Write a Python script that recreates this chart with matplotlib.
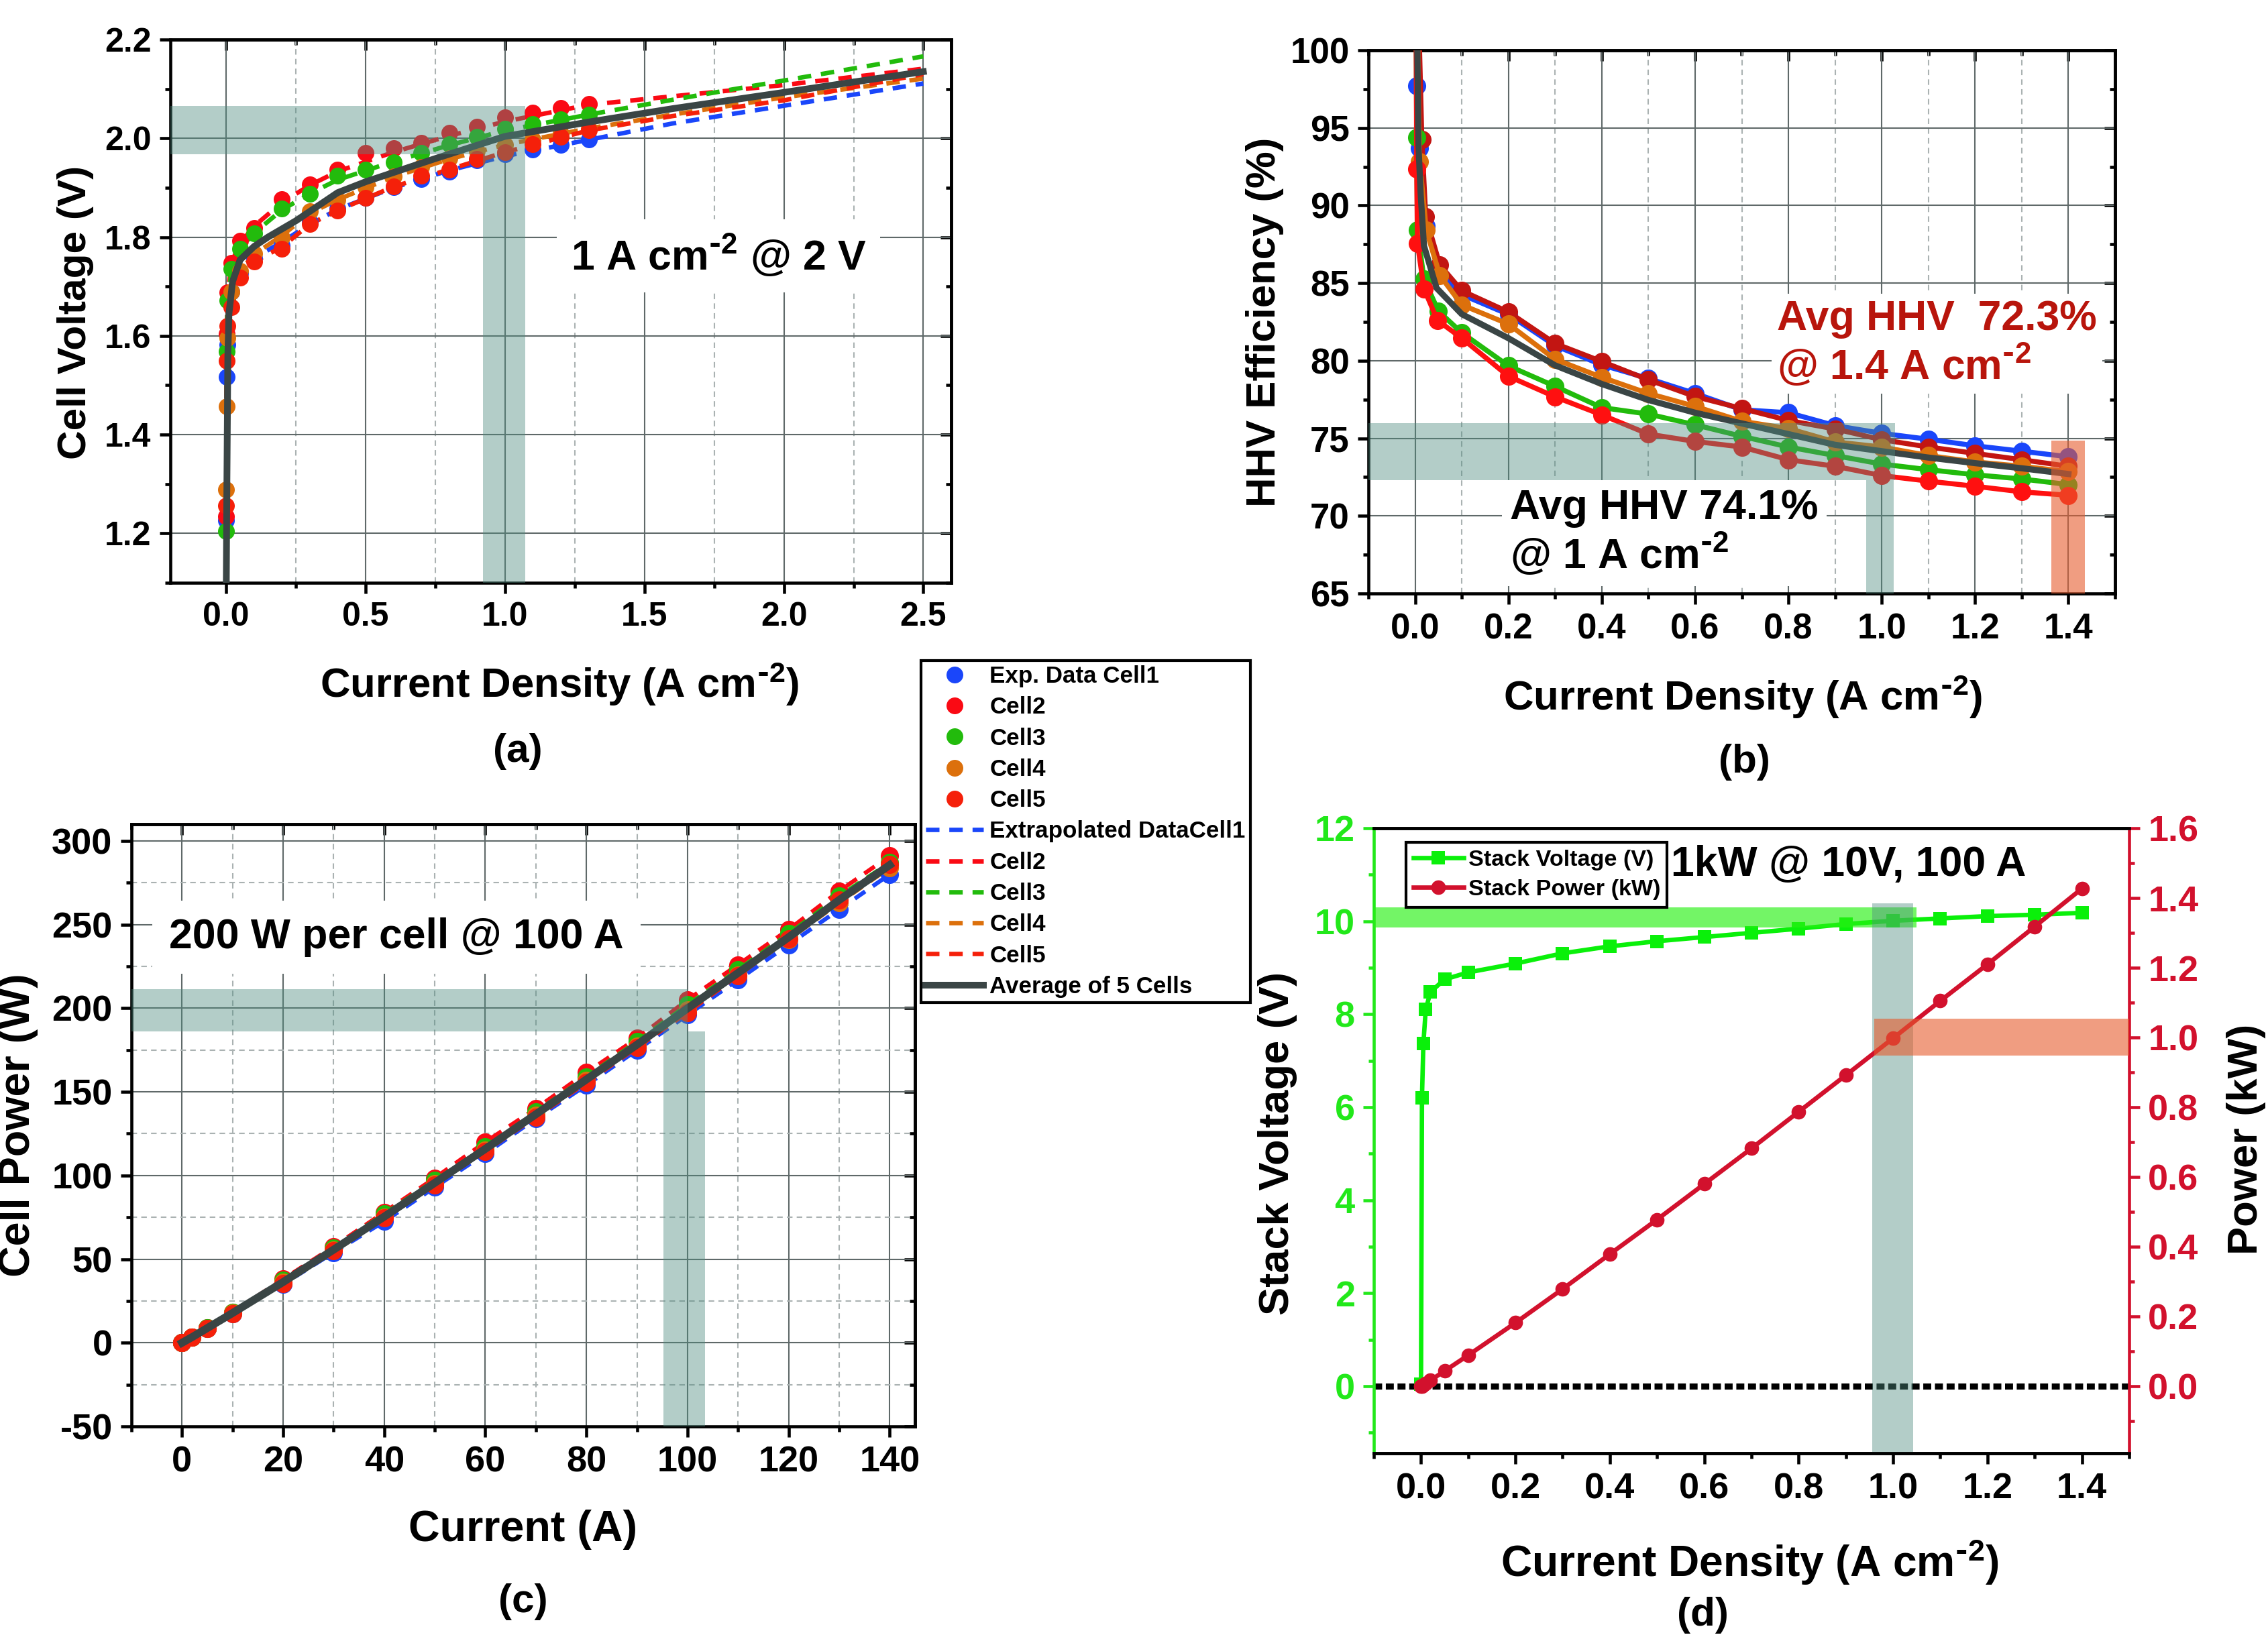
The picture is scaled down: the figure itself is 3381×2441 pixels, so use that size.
import matplotlib.pyplot as plt
from matplotlib.ticker import MultipleLocator, NullFormatter

plt.rcParams['font.family'] = ['Liberation Sans', 'DejaVu Sans']
plt.rcParams['font.weight'] = 'bold'
plt.rcParams['axes.labelweight'] = 'bold'
plt.rcParams['mathtext.default'] = 'regular'
plt.rcParams['axes.linewidth'] = 1.1
plt.rcParams['axes.unicode_minus'] = False

# ---------------- (a) polarisation curves ----------------
a_x = [0.0, 0.002, 0.005, 0.02, 0.05, 0.1, 0.2, 0.3, 0.4, 0.5, 0.6, 0.7, 0.8, 0.9, 1.0, 1.1, 1.2, 1.3]
a_cell1 = [1.226, 1.517, 1.582, 1.690, 1.728, 1.757, 1.783, 1.830, 1.858, 1.880, 1.901, 1.918, 1.933, 1.955, 1.968, 1.977, 1.987, 1.997]
a_cell2 = [1.234, 1.604, 1.688, 1.748, 1.792, 1.818, 1.877, 1.907, 1.936, 1.970, 1.980, 1.991, 2.011, 2.024, 2.043, 2.052, 2.061, 2.070]
a_cell3 = [1.204, 1.569, 1.672, 1.735, 1.776, 1.808, 1.858, 1.888, 1.925, 1.936, 1.951, 1.971, 1.988, 2.003, 2.020, 2.029, 2.039, 2.048]
a_cell4 = [1.289, 1.457, 1.596, 1.690, 1.732, 1.767, 1.799, 1.852, 1.875, 1.901, 1.923, 1.942, 1.959, 1.975, 1.987, 1.998, 2.010, 2.020]
a_cell5 = [1.256, 1.550, 1.620, 1.658, 1.718, 1.751, 1.776, 1.827, 1.854, 1.880, 1.903, 1.925, 1.936, 1.958, 1.972, 1.988, 2.003, 2.016]

ext_x = [0.0, 0.002, 0.005, 0.02, 0.05, 0.1, 0.2, 0.3, 0.4, 0.6, 0.8, 1.0, 1.3, 1.6, 2.0, 2.5]
ext_cell1 = [1.05, 1.50, 1.60, 1.69, 1.728, 1.757, 1.790, 1.826, 1.856, 1.900, 1.935, 1.964, 1.997, 2.030, 2.066, 2.111]
ext_cell2 = [1.05, 1.60, 1.685, 1.750, 1.787, 1.822, 1.870, 1.905, 1.933, 1.972, 2.005, 2.034, 2.068, 2.085, 2.108, 2.141]
ext_cell3 = [1.05, 1.57, 1.67, 1.735, 1.776, 1.808, 1.855, 1.888, 1.916, 1.953, 1.986, 2.016, 2.048, 2.078, 2.117, 2.166]
ext_cell4 = [1.05, 1.46, 1.59, 1.69, 1.732, 1.765, 1.803, 1.848, 1.876, 1.922, 1.958, 1.987, 2.020, 2.048, 2.083, 2.121]
ext_cell5 = [1.05, 1.55, 1.62, 1.66, 1.718, 1.750, 1.780, 1.826, 1.854, 1.902, 1.937, 1.972, 2.016, 2.045, 2.077, 2.130]

avg_x = [0.0, 0.002, 0.006, 0.01, 0.023, 0.05, 0.1, 0.15, 0.25, 0.4, 0.5, 0.75, 1.0, 1.3, 1.6, 2.0, 2.5]
avg_v = [1.05, 1.25, 1.56, 1.645, 1.71, 1.754, 1.781, 1.800, 1.833, 1.890, 1.912, 1.959, 2.004, 2.033, 2.060, 2.093, 2.135]

# ---------------- (b) HHV efficiency ----------------
b_tail_x = [0.1, 0.2, 0.3, 0.4, 0.5, 0.6, 0.7, 0.8, 0.9, 1.0, 1.1, 1.2, 1.3, 1.4]
b_x1 = [0.001, 0.0034, 0.0097, 0.024, 0.05] + b_tail_x
b_y1 = [110, 97.7, 93.7, 88.7, 85.8, 84.26, 82.98, 80.97, 79.73, 78.85, 77.89, 76.84, 76.65, 75.82, 75.32, 74.94, 74.52, 74.17, 73.81]
b_x2 = [0.001, 0.0145, 0.0227, 0.053] + b_tail_x
b_y2 = [110, 94.26, 89.3, 86.17, 84.51, 83.14, 81.11, 79.95, 78.77, 77.69, 76.92, 76.15, 75.6, 74.91, 74.44, 74.03, 73.62, 73.2]
b_x4 = [0.001, 0.0097, 0.024, 0.053] + b_tail_x
b_y4 = [110, 92.83, 88.4, 85.5, 83.6, 82.36, 80.09, 78.93, 77.89, 77.06, 76.1, 75.63, 74.77, 74.44, 73.89, 73.48, 73.2, 72.85]
b_x3 = [0.001, 0.0034, 0.005, 0.019, 0.05] + b_tail_x
b_y3 = [110, 94.38, 88.4, 85.26, 83.19, 81.8, 79.67, 78.35, 76.98, 76.56, 75.87, 75.13, 74.44, 73.89, 73.34, 72.98, 72.65, 72.38, 72.02]
b_x5 = [0.001, 0.0034, 0.005, 0.019, 0.048] + b_tail_x
b_y5 = [110, 92.36, 87.57, 84.63, 82.6, 81.45, 79.0, 77.67, 76.51, 75.27, 74.8, 74.44, 73.62, 73.2, 72.6, 72.24, 71.91, 71.55, 71.33]
b_xavg = [0.001, 0.007, 0.012, 0.019, 0.046] + b_tail_x
b_yavg = [110, 94.0, 90.7, 87.4, 84.68, 83.0, 81.45, 79.7, 78.5, 77.47, 76.65, 75.96, 75.27, 74.58, 74.17, 73.76, 73.4, 73.07, 72.7]

# ---------------- (c) cell power ----------------
c_cur = [0, 2, 5, 10, 20, 30, 40, 50, 60, 70, 80, 90, 100, 110, 120, 130, 140]
c_cell1 = [0, 3.4, 8.6, 17.5, 35.0, 54.0, 72.5, 93.0, 113.0, 134.0, 154.0, 175.0, 196.0, 217.0, 238.0, 259.0, 280.0]
c_cell2 = [0, 3.5, 9.0, 18.2, 38.0, 57.5, 78.0, 98.5, 120.0, 140.0, 161.5, 182.0, 205.0, 226.0, 247.0, 270.0, 291.0]
c_cell3 = [0, 3.5, 8.9, 18.1, 37.2, 56.6, 77.0, 97.0, 117.0, 138.0, 159.0, 180.0, 202.0, 223.0, 244.5, 267.0, 287.0]
c_cell4 = [0, 3.4, 8.7, 17.7, 36.0, 55.5, 75.0, 95.0, 115.0, 136.0, 157.0, 177.5, 199.0, 220.0, 241.0, 263.0, 284.0]
c_cell5 = [0, 3.4, 8.6, 17.5, 35.5, 55.0, 74.5, 94.5, 114.5, 135.0, 155.5, 176.5, 197.5, 219.5, 241.5, 264.5, 286.0]
c_avg = [0, 3.4, 8.8, 17.8, 36.3, 55.7, 75.4, 95.6, 115.9, 136.6, 157.4, 178.2, 199.9, 221.1, 242.4, 264.7, 285.6]

# ---------------- (d) stack ----------------
d_x = [0.0, 0.002, 0.005, 0.01, 0.02, 0.05, 0.1, 0.2, 0.3, 0.4, 0.5, 0.6, 0.7, 0.8, 0.9, 1.0, 1.1, 1.2, 1.3, 1.4]
d_volt = [0.05, 6.21, 7.37, 8.10, 8.48, 8.75, 8.90, 9.09, 9.31, 9.46, 9.57, 9.66, 9.75, 9.84, 9.94, 10.01, 10.06, 10.11, 10.14, 10.18]
d_power = [0.0, 0.0012, 0.0037, 0.0081, 0.017, 0.044, 0.089, 0.182, 0.279, 0.379, 0.478, 0.580, 0.682, 0.787, 0.892, 0.998, 1.105, 1.210, 1.318, 1.427]

cell_colors = ['#1a46fa', '#fa0a14', '#22bb0c', '#dc700c', '#f5200a']
b_colors = ['#1a46fa', '#c21512', '#22bb0c', '#dc700c', '#ff1010']
AVG = '#3a4545'
TEAL = '#508c80'
ORANGE = '#e65c2e'
LIME = '#0af00a'
LIME_TXT = '#22e81a'
CRIMSON = '#d2112d'
DARKRED = '#b8150c'

SUP = r'$^{\text{-}2}$'   # hyphen superscript, as in the original

W, H = 3381, 2441
fig = plt.figure(figsize=(W / 300, H / 300), dpi=300)


def box(l, t, r, b):
    return [l / W, 1 - b / H, (r - l) / W, (b - t) / H]


def ftext(x, y, s, **kw):
    fig.text(x / W, 1 - y / H, s, ha='center', va='center', **kw)


def frame(ax, xmaj, xmin, ymaj, ymin, size, yminor_grid=False):
    ax.xaxis.set_major_locator(MultipleLocator(xmaj))
    ax.xaxis.set_minor_locator(MultipleLocator(xmin))
    ax.yaxis.set_major_locator(MultipleLocator(ymaj))
    ax.yaxis.set_minor_locator(MultipleLocator(ymin))
    ax.tick_params(which='both', direction='out', width=1.1, labelsize=size, pad=3)
    ax.tick_params(which='major', length=3.8)
    ax.tick_params(which='minor', length=2)
    ax.set_axisbelow(True)
    ax.grid(True, which='major', color='#5f6969', lw=0.5)
    ax.grid(True, which='minor', axis='both' if yminor_grid else 'x',
            color='#aab2b2', lw=0.5, ls=(0, (4, 3)))
    # inward ticks on the top and right edges
    sx = ax.secondary_xaxis('top')
    sx.xaxis.set_major_locator(MultipleLocator(xmaj))
    sx.xaxis.set_minor_locator(MultipleLocator(xmin))
    sx.xaxis.set_major_formatter(NullFormatter())
    sx.tick_params(which='both', direction='in', width=1.1)
    sx.tick_params(which='major', length=3.8)
    sx.tick_params(which='minor', length=2)
    sy = ax.secondary_yaxis('right')
    sy.yaxis.set_major_locator(MultipleLocator(ymaj))
    sy.yaxis.set_minor_locator(MultipleLocator(ymin))
    sy.yaxis.set_major_formatter(NullFormatter())
    sy.tick_params(which='both', direction='in', width=1.1)
    sy.tick_params(which='major', length=3.8)
    sy.tick_params(which='minor', length=2)


def band(ax, x0, x1, y0, y1, color, alpha):
    ax.fill_between([x0, x1], y0, y1, color=color, alpha=alpha, lw=0, zorder=5)


# ================= (a) =================
axa = fig.add_axes(box(254, 59, 1418, 869))
a_cells = [a_cell1, a_cell2, a_cell3, a_cell4, a_cell5]
ext_cells = [ext_cell1, ext_cell2, ext_cell3, ext_cell4, ext_cell5]
dot_handles, dash_handles = [], []
for e, c in zip(ext_cells, cell_colors):
    ln, = axa.plot(ext_x, e, color=c, lw=1.6, ls=(0, (3, 2.2)), zorder=2)
    dash_handles.append(ln)
for v, c in zip(a_cells, cell_colors):
    pt, = axa.plot(a_x, v, 'o', color=c, ms=6, mec='none', zorder=3)
    dot_handles.append(pt)
avg_line, = axa.plot(avg_x, avg_v, color=AVG, lw=2.4, zorder=4)
axa.set_xlim(-0.2, 2.6)
axa.set_ylim(1.1, 2.2)
frame(axa, 0.5, 0.25, 0.2, 0.1, 12)
band(axa, -0.2, 1.073, 1.968, 2.066, TEAL, 0.43)
band(axa, 0.922, 1.073, 1.1, 1.968, TEAL, 0.43)
axa.text(1.766, 1.762, '1 A cm' + SUP + ' @ 2 V', fontsize=15, ha='center', va='center',
         bbox=dict(fc='white', ec='none', pad=5), zorder=6)

# ================= (b) =================
axb = fig.add_axes(box(2040, 75, 3153, 885))
b_xs = [b_x1, b_x2, b_x3, b_x4, b_x5]
b_ys = [b_y1, b_y2, b_y3, b_y4, b_y5]
for xs, ys, c in zip(b_xs, b_ys, b_colors):
    axb.plot(xs, ys, '-o', color=c, lw=1.8, ms=6.5, mec='none', zorder=3)
axb.plot(b_xavg, b_yavg, color=AVG, lw=2.2, zorder=4)
axb.set_xlim(-0.1, 1.5)
axb.set_ylim(65, 100)
frame(axb, 0.2, 0.1, 5, 2.5, 12.7)
band(axb, -0.1, 1.028, 72.32, 75.96, TEAL, 0.43)
band(axb, 0.967, 1.025, 65, 72.32, TEAL, 0.43)
band(axb, 1.364, 1.436, 65, 74.86, ORANGE, 0.6)
axb.text(0.776, 81.1, 'Avg HHV  72.3%\n@ 1.4 A cm' + SUP, color=DARKRED, fontsize=15,
         ha='left', va='center', linespacing=1.1,
         bbox=dict(fc='white', ec='none', pad=2), zorder=6)
axb.text(0.2035, 68.9, 'Avg HHV 74.1%\n@ 1 A cm' + SUP, color='black', fontsize=15,
         ha='left', va='center', linespacing=1.1,
         bbox=dict(fc='white', ec='none', pad=3), zorder=6)

# ================= (c) =================
axc = fig.add_axes(box(196, 1229, 1364, 2127))
c_cells = [c_cell1, c_cell2, c_cell3, c_cell4, c_cell5]
for p, c in zip(c_cells, cell_colors):
    axc.plot(c_cur, p, color=c, lw=1.5, ls=(0, (3, 2.2)), marker='o', ms=6.5, mec='none', zorder=3)
axc.plot(c_cur, c_avg, color=AVG, lw=2.8, zorder=4)
axc.set_xlim(-10, 145)
axc.set_ylim(-50, 310)
frame(axc, 20, 10, 50, 25, 13, yminor_grid=True)
band(axc, -10, 100.06, 186.2, 211.5, TEAL, 0.43)
band(axc, 95.3, 103.4, -50, 186.2, TEAL, 0.43)
axc.text(42.4, 242.5, '200 W per cell @ 100 A', fontsize=15, ha='center', va='center',
         bbox=dict(fc='white', ec='none', pad=6), zorder=6)

# ================= (d) =================
axd = fig.add_axes(box(2048, 1235, 3174, 2167))
axd2 = axd.twinx()
band(axd, -0.1, 1.049, 9.86, 10.30, '#28f014', 0.65)
band(axd, 0.956, 1.042, -1.44, 10.38, TEAL, 0.43)
axd.axhline(0, color='black', lw=2.2, ls=(0, (1.3, 0.6)), zorder=2)
lv, = axd.plot(d_x, d_volt, '-s', color=LIME, lw=1.6, ms=4.8, mec='none', zorder=3)
lp, = axd2.plot(d_x, d_power, '-o', color=CRIMSON, lw=1.6, ms=5.2, mec='none', zorder=3)
band(axd2, 0.96, 1.5, 0.948, 1.053, ORANGE, 0.6)
axd.set_xlim(-0.1, 1.5)
axd.set_ylim(-1.44, 12)
axd2.set_ylim(-0.192, 1.6)
axd.xaxis.set_major_locator(MultipleLocator(0.2))
axd.xaxis.set_minor_locator(MultipleLocator(0.1))
axd.yaxis.set_major_locator(MultipleLocator(2))
axd.yaxis.set_minor_locator(MultipleLocator(1))
axd2.yaxis.set_major_locator(MultipleLocator(0.2))
axd2.yaxis.set_minor_locator(MultipleLocator(0.1))
for a in (axd, axd2):
    a.tick_params(which='both', direction='out', width=1.1, labelsize=13, pad=3)
    a.tick_params(which='major', length=3.8)
    a.tick_params(which='minor', length=2)
axd.tick_params(axis='y', which='both', colors=LIME_TXT)
axd2.tick_params(axis='y', which='both', colors=CRIMSON)
axd.spines['left'].set_color(LIME_TXT)
axd.spines['right'].set_visible(False)
axd2.spines['left'].set_visible(False)
axd2.spines['right'].set_color(CRIMSON)
axd2.legend([lv, lp], ['Stack Voltage (V)', 'Stack Power (kW)'], loc='upper left',
            bbox_to_anchor=(0.043, 0.977), borderaxespad=0, fontsize=8.2,
            fancybox=False, edgecolor='black', framealpha=1, handlelength=2.2,
            handletextpad=0.2, borderpad=0.3, labelspacing=0.4)
axd2.text(0.905, 1.496, '1kW @ 10V, 100 A', fontsize=15, ha='center', va='center', zorder=6)

# ================= shared legend =================
fig.legend(dot_handles + dash_handles + [avg_line],
           ['Exp. Data Cell1', 'Cell2', 'Cell3', 'Cell4', 'Cell5',
            'Extrapolated DataCell1', 'Cell2', 'Cell3', 'Cell4', 'Cell5',
            'Average of 5 Cells'],
           loc='upper left', bbox_to_anchor=(1373 / W, 1 - 985 / H), borderaxespad=0,
           fontsize=8.4, fancybox=False, edgecolor='black', framealpha=1,
           handlelength=2.46, handletextpad=0.26, borderpad=0.2, labelspacing=0.38)

# ================= axis titles =================
xl = 'Current Density (A cm' + SUP + ')'
ftext(113, 466, 'Cell Voltage (V)', rotation=90, fontsize=14.5)
ftext(834, 1020, xl, fontsize=14.8)
ftext(772, 1120, '(a)', fontsize=14.5)
ftext(1886, 480, 'HHV Efficiency (%)', rotation=90, fontsize=14.8)
ftext(2598, 1039, xl, fontsize=14.8)
ftext(2600, 1136, '(b)', fontsize=14.5)
ftext(27, 1678, 'Cell Power (W)', rotation=90, fontsize=15.5)
ftext(780, 2281, 'Current (A)', fontsize=15.5)
ftext(780, 2389, '(c)', fontsize=14.5)
ftext(1904, 1705, 'Stack Voltage (V)', rotation=90, fontsize=15.2)
ftext(3349, 1699, 'Power (kW)', rotation=90, fontsize=15.2)
ftext(2609, 2329, xl, fontsize=15.4)
ftext(2538, 2408, '(d)', fontsize=14.5)

fig.savefig('out.png', dpi=300)
